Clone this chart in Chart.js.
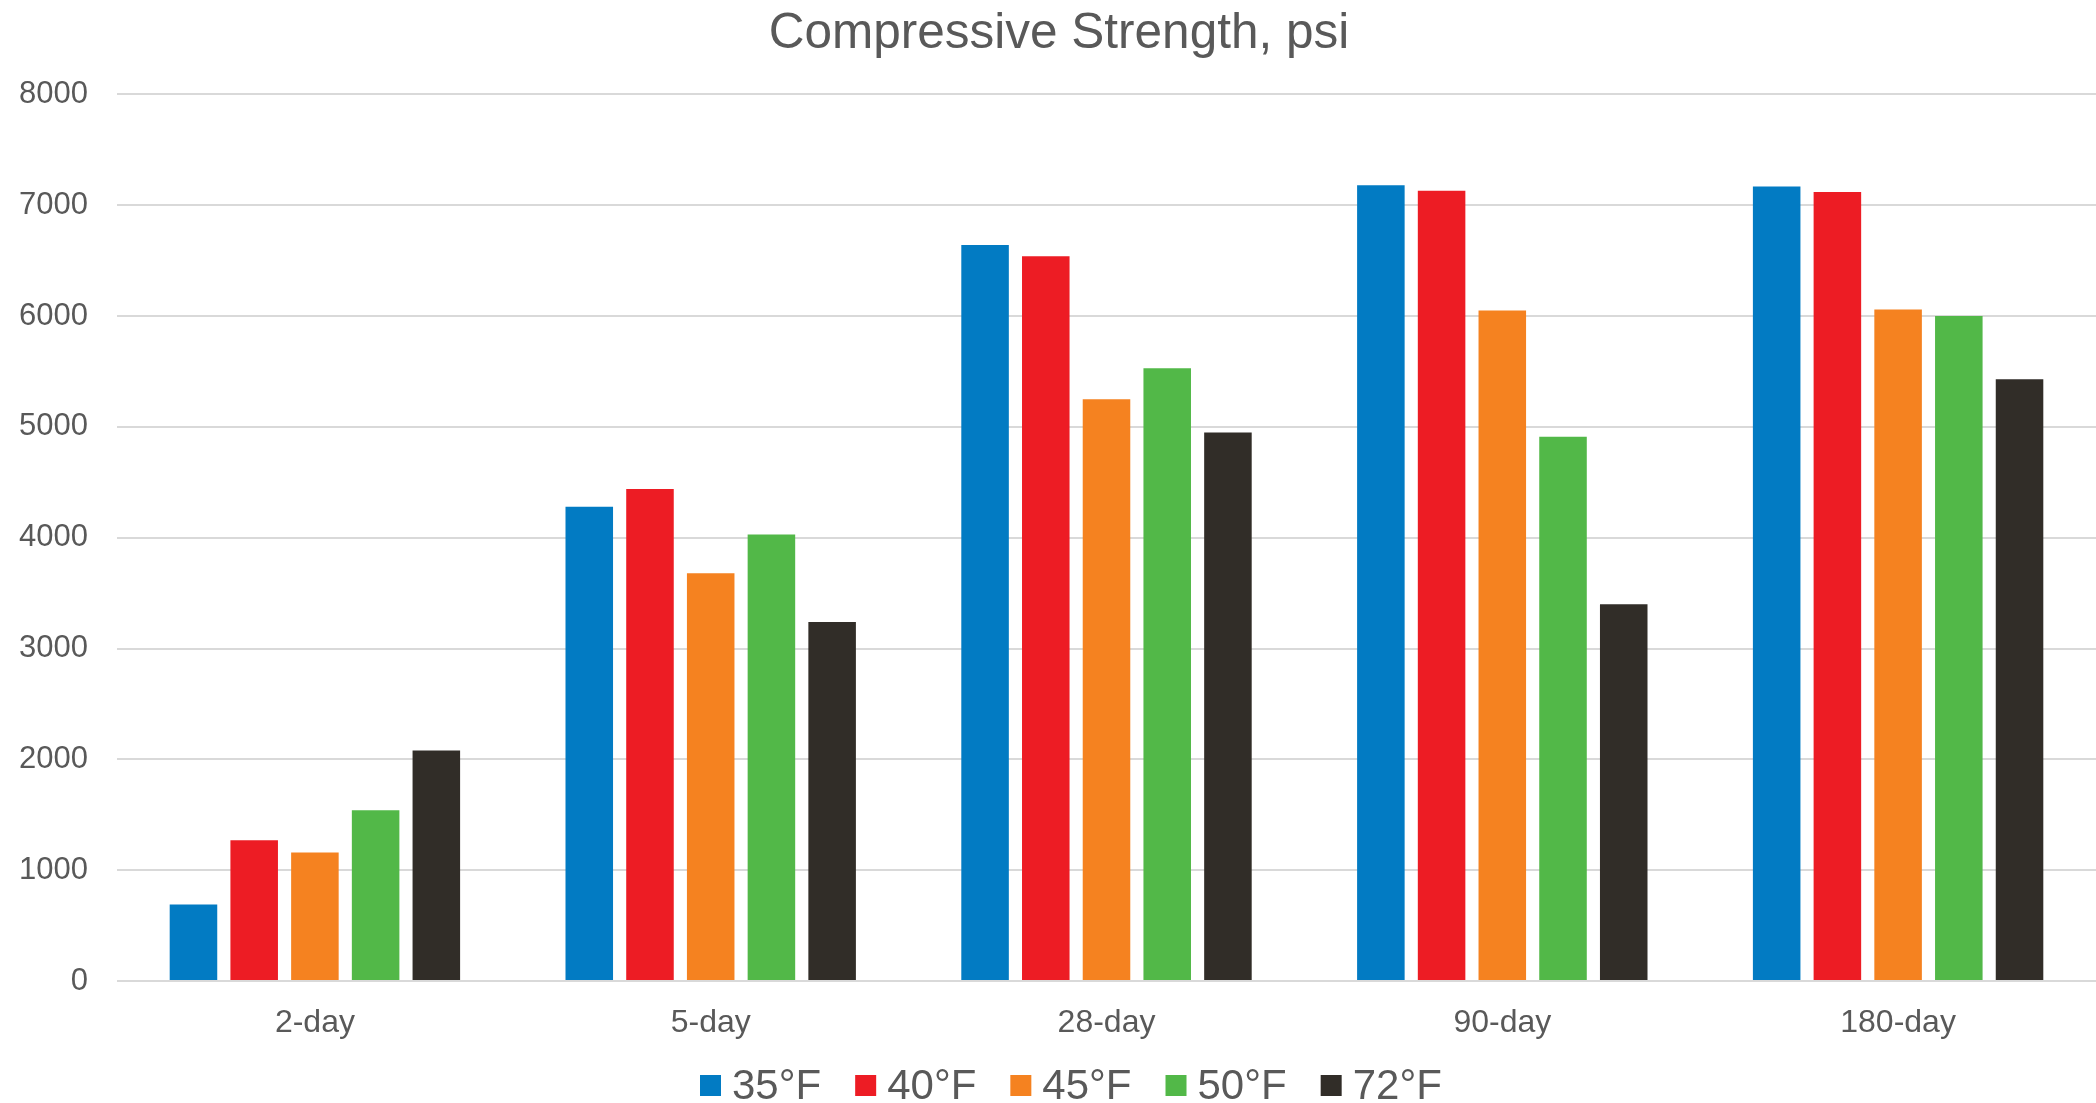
<!DOCTYPE html>
<html>
<head>
<meta charset="utf-8">
<title>Compressive Strength, psi</title>
<script src="https://cdn.jsdelivr.net/npm/chart.js@4/dist/chart.umd.min.js"></script>
<style>
  html, body { margin: 0; padding: 0; background: #ffffff; }
  #wrap { width: 2096px; height: 1103px; }
</style>
</head>
<body>
<div id="wrap"><canvas id="chart" width="2096" height="1103"></canvas></div>
<script>
// Curing ages (x categories)
const ages = ['2-day', '5-day', '28-day', '90-day', '180-day'];

// Curing temperatures (one series each)
const temps = ['35°F', '40°F', '45°F', '50°F', '72°F'];

// Compressive strength, psi, per curing temperature
const s35 = [690, 4280, 6640, 7180, 7170];
const s40 = [1270, 4440, 6540, 7130, 7120];
const s45 = [1160, 3680, 5250, 6050, 6060];
const s50 = [1540, 4030, 5530, 4910, 6000];
const s72 = [2080, 3240, 4950, 3400, 5430];

// y axis range
const yMin = 0;
const yMax = 8000;
const yStep = 1000;

const seriesValues = [s35, s40, s45, s50, s72];
const seriesColors = ['#027BC3', '#ED1C24', '#F58220', '#52B848', '#312D28'];

const textColor = '#595959';
const fontFamily = '"Liberation Sans", Arial, Helvetica, sans-serif';

const datasets = temps.map((t, i) => ({
  label: t,
  data: seriesValues[i],
  backgroundColor: seriesColors[i],
  borderWidth: 0,
  categoryPercentage: 0.767,
  barPercentage: 0.783
}));

// Legend row under the axis: square swatch, short gap, label, wider gap to next item
const legendRow = {
  id: 'legendRow',
  afterDraw(chart) {
    const ctx = chart.ctx;
    const box = 21, gapText = 11, gapItem = 34;
    const fontSize = 42;
    const cy = 1085;
    const centerX = 1071;
    ctx.save();
    ctx.font = fontSize + 'px ' + fontFamily;
    ctx.textBaseline = 'middle';
    ctx.textAlign = 'left';
    const items = chart.data.datasets.map(ds => ({
      text: ds.label,
      color: ds.backgroundColor,
      w: ctx.measureText(ds.label).width
    }));
    let total = 0;
    items.forEach((it, i) => {
      total += box + gapText + it.w + (i < items.length - 1 ? gapItem : 0);
    });
    let x = Math.round(centerX - total / 2);
    items.forEach(it => {
      ctx.fillStyle = it.color;
      ctx.fillRect(x, Math.round(cy - box / 2), box, box);
      ctx.fillStyle = textColor;
      ctx.fillText(it.text, x + box + gapText, cy + 2);
      x += box + gapText + it.w + gapItem;
    });
    ctx.restore();
  }
};

new Chart(document.getElementById('chart'), {
  type: 'bar',
  data: { labels: ages, datasets: datasets },
  plugins: [legendRow],
  options: {
    responsive: false,
    animation: false,
    devicePixelRatio: 1,
    layout: { padding: { left: 18, right: -4, top: 0, bottom: 61 } },
    plugins: {
      title: {
        display: true,
        text: 'Compressive Strength, psi',
        color: textColor,
        font: { family: fontFamily, size: 49.5, weight: 'normal' },
        padding: { top: 5, bottom: 30 }
      },
      legend: { display: false },
      tooltip: { enabled: false }
    },
    scales: {
      x: {
        grid: { display: false, drawTicks: false },
        border: { display: false },
        ticks: {
          color: textColor,
          font: { family: fontFamily, size: 32 },
          padding: 23
        },
        afterFit: (scale) => { scale.height = 61; }
      },
      y: {
        min: yMin,
        max: yMax,
        grid: { color: '#D9D9D9', lineWidth: 2, drawTicks: false },
        border: { display: false },
        ticks: {
          stepSize: yStep,
          color: textColor,
          font: { family: fontFamily, size: 31 },
          padding: 29,
          callback: (v) => String(v)
        },
        afterFit: (scale) => { scale.width = 99; }
      }
    }
  }
});
</script>
</body>
</html>
